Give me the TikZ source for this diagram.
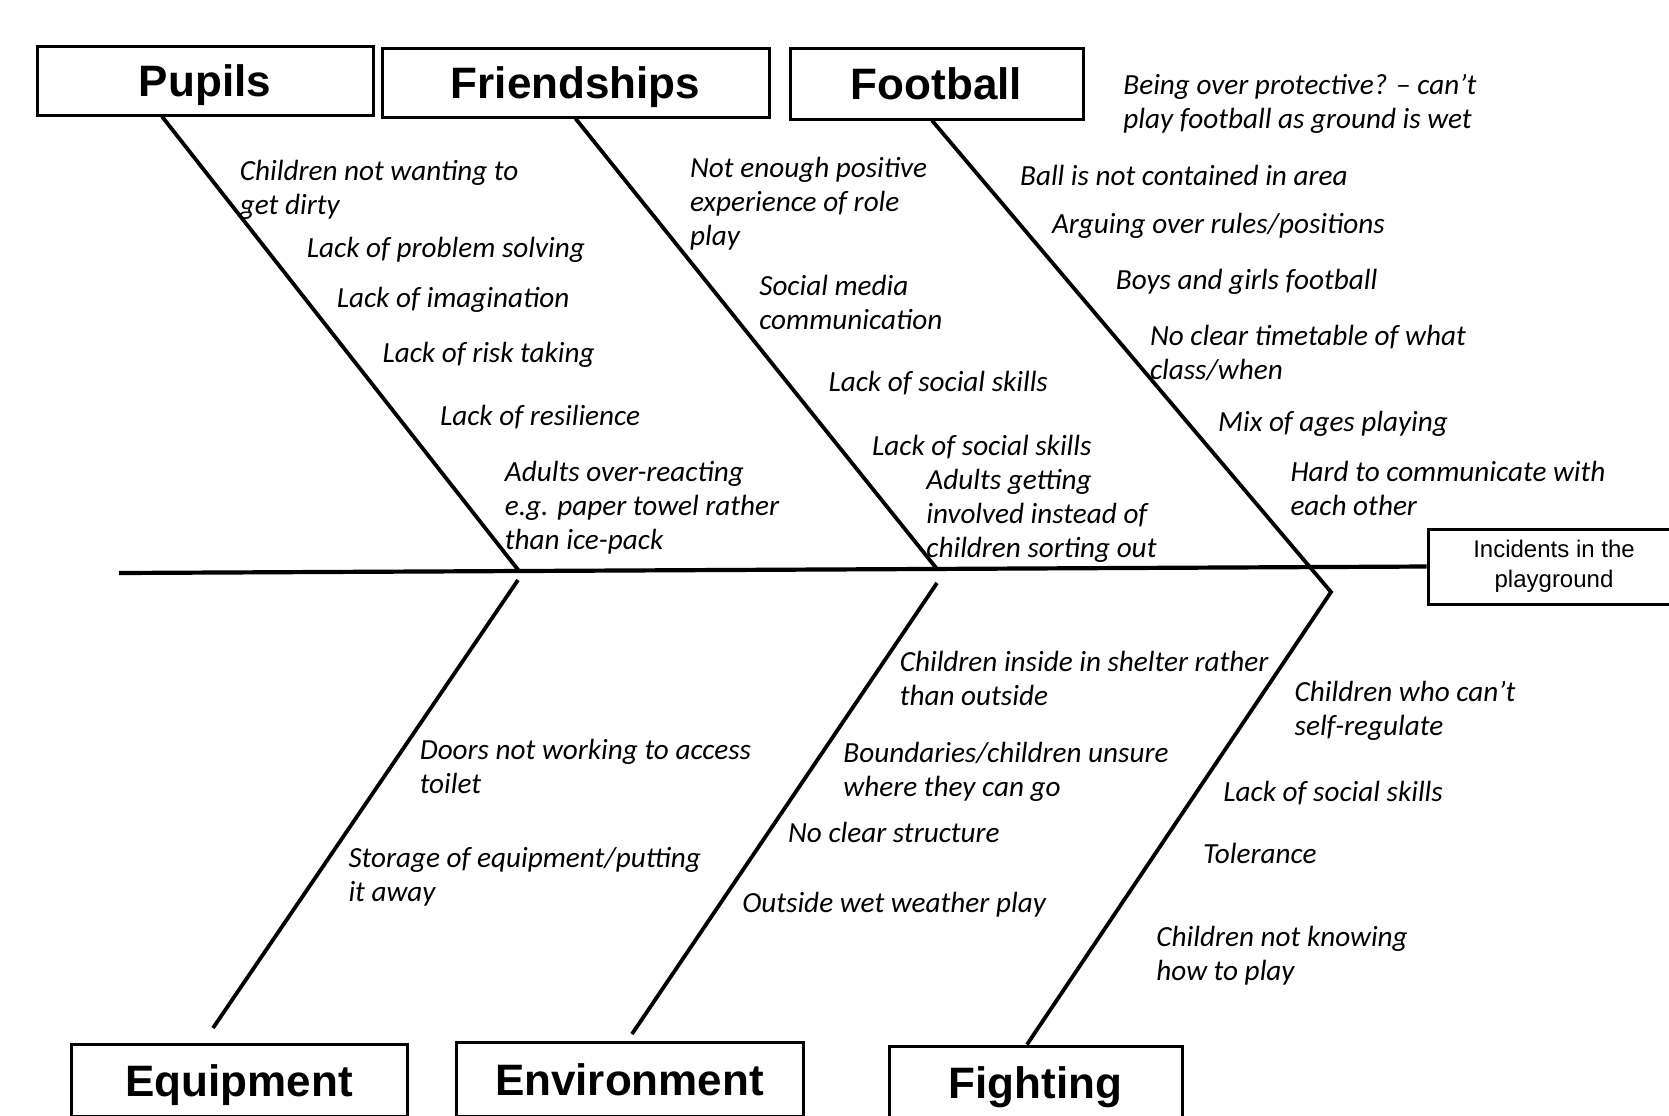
\documentclass[tikz,border=0pt]{standalone}
\usepackage{fontspec}
\setmainfont{Carlito}
\newfontfamily\headfont{Liberation Sans}

\begin{document}
\begin{tikzpicture}[x=0.5pt,y=-0.5pt,
cat/.style={draw,line width=1.5pt,rectangle,inner sep=0pt,text height=16pt,text depth=0pt,
    font=\headfont\bfseries\fontsize{22}{26}\selectfont},
cause/.style={anchor=base west,inner sep=0pt,yshift=-1pt,align=left,font=\itshape\fontsize{14.6}{17}\selectfont},
bone/.style={line width=1.9pt}]
\useasboundingbox (0,0) rectangle (1669,1115);

\node (pupils) [cat,minimum width=168pt,minimum height=34.5pt] at (205,80.5) {Pupils};
\node (friendships) [cat,minimum width=193.5pt,minimum height=34.5pt] at (575.5,82.5) {Friendships};
\node (football) [cat,minimum width=146.5pt,minimum height=35.5pt] at (936.5,83.5) {Football};
\node (incidents) [draw,line width=1.5pt,minimum width=126pt,minimum height=37.5pt,
    align=center,font=\headfont\fontsize{12}{15}\selectfont] at (1554,566.5) {Incidents in the\\playground};
\node (equipment) [cat,minimum width=168pt,minimum height=36pt] at (239,1080) {Equipment};
\node (environment) [cat,minimum width=173.5pt,minimum height=37pt] at (629.5,1079) {Environment};
\node (fighting) [cat,minimum width=146.5pt,minimum height=36pt] at (1035.5,1082) {Fighting};

\coordinate (tail) at (119,573);
\coordinate (jpupils) at (519,571);
\coordinate (jfriend) at (937,569);
\coordinate (jfoot) at (1331,592);
\coordinate (jequip) at (518,580);
\coordinate (jenv) at (937,583);
\coordinate (tequip) at (213,1028);
\coordinate (tenv) at (632,1034);

\draw[line width=2.1pt] (tail) -- (incidents.west);
\draw[bone] (162,0 |- pupils.south) -- (jpupils);
\draw[bone] (friendships.south) -- (jfriend);
\draw[bone] (932,0 |- football.south) -- (jfoot) -- (1027,0 |- fighting.north);
\draw[bone] (jequip) -- (tequip);
\draw[bone] (jenv) -- (tenv);

% pupils
\node (pup1) [cause] at (239.5,212.8) {Children not wanting to\\get dirty};
\node (pup2) [cause] at (306.5,255.5) {Lack of problem solving};
\node (pup3) [cause] at (336.4,305.5) {Lack of imagination};
\node (pup4) [cause] at (382.1,360.8) {Lack of risk taking};
\node (pup5) [cause] at (439.6,423.6) {Lack of resilience};
\node (pup6) [cause] at (504.5,547.0) {Adults over-reacting\\e.g. paper towel rather\\than ice-pack};

% friendships
\node (fri1) [cause] at (689.7,243.6) {Not enough positive\\experience of role\\play};
\node (fri2) [cause] at (758.9,327.8) {Social media\\communication};
\node (fri3) [cause] at (828.1,389.6) {Lack of social skills};
\node (fri4) [cause] at (871.7,453.4) {Lack of social skills};
\node (fri5) [cause] at (926.0,555.5) {Adults getting\\involved instead of\\children sorting out};

% football
\node (foo1) [cause] at (1123,126.6) {Being over protective? – can’t\\play football as ground is wet};
\node (foo2) [cause] at (1019.7,183.1) {Ball is not contained in area};
\node (foo3) [cause] at (1051.6,231.0) {Arguing over rules/positions};
\node (foo4) [cause] at (1115.5,287.4) {Boys and girls football};
\node (foo5) [cause] at (1149.6,377.8) {No clear timetable of what\\class/when};
\node (foo6) [cause] at (1217.7,429.0) {Mix of ages playing};
\node (foo7) [cause] at (1290.1,513.0) {Hard to communicate with\\each other};

% equipment
\node (equ1) [cause] at (419.4,791.9) {Doors not working to access\\toilet};
\node (equ2) [cause] at (348.1,899.4) {Storage of equipment/putting\\it away};

% environment
\node (env1) [cause] at (899.4,703.5) {Children inside in shelter rather\\than outside};
\node (env2) [cause] at (843.0,794.0) {Boundaries/children unsure\\where they can go};
\node (env3) [cause] at (787.7,840.9) {No clear structure};
\node (env4) [cause] at (741.9,910.1) {Outside wet weather play};

% fighting
\node (fig1) [cause] at (1294.3,733.3) {Children who can’t\\self-regulate};
\node (fig2) [cause] at (1223.0,799.4) {Lack of social skills};
\node (fig3) [cause] at (1202.8,861.1) {Tolerance};
\node (fig4) [cause] at (1156.0,978.1) {Children not knowing\\how to play};
\end{tikzpicture}
\end{document}
